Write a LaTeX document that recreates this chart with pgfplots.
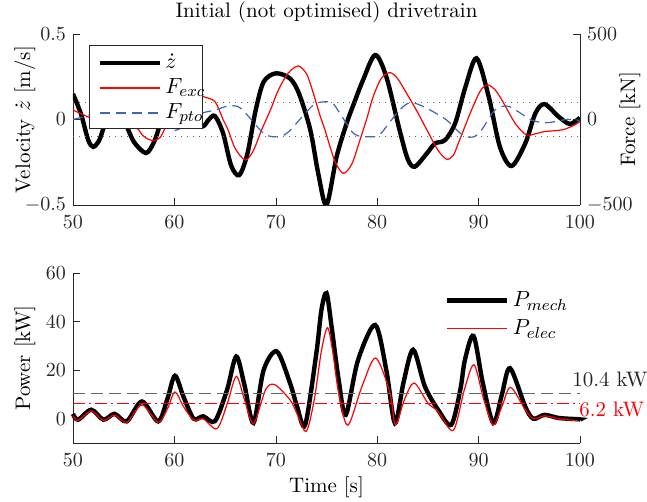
\documentclass[border=0pt]{standalone}
\usepackage{pgfplots}
\pgfplotsset{compat=1.18}
\definecolor{ptoblue}{HTML}{3A66B5}
\definecolor{axgray}{gray}{0.15}
\definecolor{refgray}{gray}{0.4}

\begin{document}
\begin{tikzpicture}
\pgfplotsset{
  every axis/.append style={
    scale only axis, width=253.5pt,
    xmin=50, xmax=100,
    tick label style={font=\fontsize{10}{12}\selectfont, color=axgray},
    xticklabel style={yshift=-2pt},
    label style={font=\fontsize{10.5}{12}\selectfont},
    x axis line style={axgray,-}, y axis line style={axgray,-},
    tick style={axgray}, major tick length=3.5pt,
  },
  legend image code/.code={\draw[#1] (0pt,0pt) -- (30pt,0pt);},
}

% velocity (left axis)
\begin{axis}[
  height=85.5pt,
  ymin=-0.5, ymax=0.5, ytick={-0.5,0,0.5},
  xtick={50,60,...,100},
  axis x line*=bottom, axis y line*=left,
  ylabel={Velocity $\dot z$ [m/s]},
  ylabel style={at={(axis description cs:-0.0947,0.5)}, anchor=center, rotate=0},
  title={Initial (not optimised) drivetrain},
  title style={font=\fontsize{10.5}{12}\selectfont,
    at={(axis description cs:0.5,1.059)}, anchor=center, yshift=0pt},
]
\addplot[draw=black, line width=2.2pt, smooth] coordinates {
 (50,0.15)(50.8,0.03)(51.5,-0.12)(52,-0.16)(52.6,-0.12)(53.2,-0.02)(54.1,0.07)
 (55,0.0)(56,-0.13)(57.2,-0.196)(58,-0.13)(58.6,-0.02)(59.3,0.18)(60,0.28)
 (60.8,0.2)(61.9,0.0)(62.8,-0.04)(63.4,0.0)(64,0.02)(64.8,-0.08)(65.6,-0.27)
 (66.4,-0.325)(67.2,-0.2)(68,0.05)(68.8,0.22)(70,0.27)(71.4,0.24)(72.3,0.15)
 (73.4,-0.06)(74.2,-0.32)(75,-0.5)(76,-0.217)(77,-0.02)(77.65,0.085)(78.6,0.23)
 (79.8,0.377)(80.9,0.25)(82.2,-0.06)(83,-0.23)(83.7,-0.276)(84.9,-0.198)
 (85.7,-0.14)(86.7,-0.12)(87.7,-0.02)(88.7,0.19)(89.8,0.358)(91,0.133)
 (92.1,-0.16)(93.25,-0.272)(94.6,-0.14)(95.6,0.036)(96.5,0.09)(97.9,0.016)
 (99,-0.026)(100,0.01)};
\end{axis}

% forces (right axis)
\begin{axis}[
  height=85.5pt,
  ymin=-500, ymax=500, ytick={-500,0,500},
  axis y line*=right, axis x line=none,
  ylabel={Force [kN]},
  ylabel style={at={(axis description cs:1.0986,0.5)}, anchor=center, rotate=0},
  legend style={at={(axis description cs:0.0434,0.917)}, anchor=north west,
    draw=none, fill=none, inner sep=1pt, row sep=0pt,
    font=\fontsize{11}{13}\selectfont,
    nodes={text height=7pt, text depth=2pt, inner sep=1.75pt}},
  legend cell align=left,
]
\addlegendimage{draw=black, line width=2.2pt}
\addlegendentry{$\dot z$}
\addplot[draw=red, line width=0.6pt, smooth] coordinates {
 (50,55)(51,28)(51.7,9)(52.5,-10)(53.3,-20)(54.2,-15)(55.2,-15)(56.3,-50)
 (57,-100)(57.9,-124)(58.6,-105)(59.1,-50)(60,25)(61,95)(62,135)(62.85,133)
 (64,104)(64.8,0)(65.3,-61)(66,-170)(67,-237)(67.8,-180)(68.6,-61)(69.5,60)
 (70.25,172)(71.2,270)(72.2,313)(73,270)(73.5,192)(74.4,16)(74.85,-61)
 (75.8,-240)(76.65,-315)(77.5,-260)(78.3,-120)(79,10)(79.6,133)(80.4,240)
 (81.26,274)(82,240)(82.9,153)(84,40)(84.9,-61)(86,-180)(86.85,-232)
 (87.5,-210)(88,-139)(89.3,55)(90.2,170)(90.9,202)(91.6,175)(92.3,114)
 (93.6,-22)(94.7,-90)(95.5,-85)(96.5,-71)(98.2,-61)(99.2,-40)(100,-13)};
\addlegendentry{$F_{exc}$}
\addplot[draw=ptoblue, line width=0.6pt, dash pattern=on 5pt off 3pt, smooth] coordinates {
 (50,0)(51,15)(51.7,26)(52.5,15)(53.3,-10)(54,-30)(54.8,-15)(55.6,15)
 (56.6,37)(57.5,20)(58.4,0)(59.2,-45)(60,-65)(60.8,-45)(61.9,0)(62.8,38)
 (64,55)(65.3,79)(66.3,75)(67,38)(68,-30)(68.6,-71)(69.2,-95)(69.6,-100)
 (70.5,-100)(71.2,-75)(71.9,-32)(72.8,30)(73.7,85)(74.3,100)(75.5,100)
 (76.3,38)(77.5,-71)(78.2,-97)(78.6,-100)(79.8,-100)(80.4,-80)(80.9,-42)
 (82.2,55)(83.2,98)(84.2,85)(85.5,46)(86.85,-3)(88,-71)(88.7,-100)
 (89.6,-100)(90.3,-61)(91.6,55)(92.8,79)(93.9,46)(95.2,-3)(96.5,-19)
 (97.5,-13)(98.8,1)(100,-10)};
\addlegendentry{$F_{pto}$}
\addplot[draw=refgray, line width=0.7pt, dash pattern=on 0.7pt off 2.3pt, forget plot]
  coordinates {(50,100)(100,100)};
\addplot[draw=refgray, line width=0.7pt, dash pattern=on 0.7pt off 2.3pt, forget plot]
  coordinates {(50,-100)(100,-100)};
% legend frame (covers the curves behind it)
\draw[axgray, fill=white, line width=0.5pt]
  (axis description cs:0.0335,0.93) rectangle (axis description cs:0.2564,0.45);
\end{axis}

% power
\begin{axis}[
  at={(0,-119pt)},
  height=85pt,
  ymin=-10, ymax=60, ytick={0,20,40,60},
  xtick={50,60,...,100},
  axis x line*=bottom, axis y line*=left,
  xlabel={Time [s]}, ylabel={Power [kW]},
  ylabel style={at={(axis description cs:-0.0947,0.5)}, anchor=center, rotate=0},
  xlabel style={at={(axis description cs:0.5,-0.259)}, anchor=center},
  clip=false,
  legend style={at={(axis description cs:0.72,0.94)}, anchor=north west,
    draw=none, fill=none, font=\fontsize{11}{13}\selectfont, row sep=1pt},
  legend cell align=left,
]
\addplot[draw=black, line width=2.2pt, smooth] coordinates {
 (50,2)(50.5,-0.4)(51.8,3.7)(53,-0.4)(54.1,2)(55.3,-1.1)(56.8,7.1)(58.4,-1.1)
 (59.3,8)(60.05,17.7)(60.9,9)(61.9,0)(62.85,1)(64,-1)(65.2,12)(66.1,25.6)
 (66.9,14)(67.8,-1.7)(68.8,20)(70.1,27.7)(71.4,14.7)(72.1,5)(72.9,-2.5)
 (74,27)(74.5,44.8)(75,51.7)(75.5,38)(76.2,16)(76.9,1.6)(78.1,24)(79.8,38.6)
 (80.9,20)(81.75,-1.8)(82.6,15)(83.55,28.4)(84.7,13.3)(86,3.7)(87.3,-2.5)
 (88.2,12)(88.65,24.2)(89.5,34.1)(90.4,15)(91.45,-1.8)(92.3,10)(93.1,20.8)
 (94.6,5)(95.4,0)(96.5,1.6)(97.9,0.3)(99.8,-0.2)(100,-0.3)};
\addlegendentry{$P_{mech}$}
\addplot[draw=red, line width=0.6pt, smooth] coordinates {
 (50,1.3)(50.5,-0.7)(51.8,3.2)(53,-0.7)(54.1,1.5)(55.3,-1.5)(56.8,5.7)
 (58.4,-1.5)(59.3,4)(60.05,11)(60.9,5)(61.9,-0.5)(62.85,-0.1)(64.2,-4.1)
 (65.2,6)(66.1,17.4)(66.9,8)(67.8,-2)(69,12)(69.9,14)(71.4,7.8)(72.1,2)
 (73,-5.2)(73.8,8)(74.5,28)(75.1,37.5)(75.6,28)(76.2,10.6)(77.1,-2.7)
 (78.5,13.3)(79.85,25)(81.26,10.6)(81.8,-2.5)(82.7,8)(83.65,14.7)(85,6.4)
 (86,3)(87.5,-4.8)(88.6,12)(89.55,22.2)(90.5,8)(91.45,-2.5)(92.3,5)
 (93.15,12.9)(94.6,3.7)(95.4,0)(96.5,1.2)(97.9,0)(99.8,-0.8)};
\addlegendentry{$P_{elec}$}
\addplot[draw=refgray, line width=0.8pt, dash pattern=on 6pt off 3pt, forget plot]
  coordinates {(50,10.4)(100,10.4)};
\addplot[draw=red, line width=0.8pt, dash pattern=on 6pt off 2pt on 1pt off 2pt, forget plot]
  coordinates {(50,6.2)(100,6.2)};
\node[anchor=west, font=\fontsize{10.5}{12}\selectfont, text=axgray, inner sep=0pt]
  at (axis cs:99.2,16.0) {10.4 kW};
\node[anchor=west, font=\fontsize{10.5}{12}\selectfont, text=red, inner sep=0pt]
  at (axis cs:99.9,3.7) {6.2 kW};
\end{axis}
% page matches the reference frame; the kW labels run off its right edge there too
\pgfresetboundingbox
\useasboundingbox (-36.5pt,-148.5pt) rectangle (287pt,102.5pt);
\end{tikzpicture}
\end{document}
